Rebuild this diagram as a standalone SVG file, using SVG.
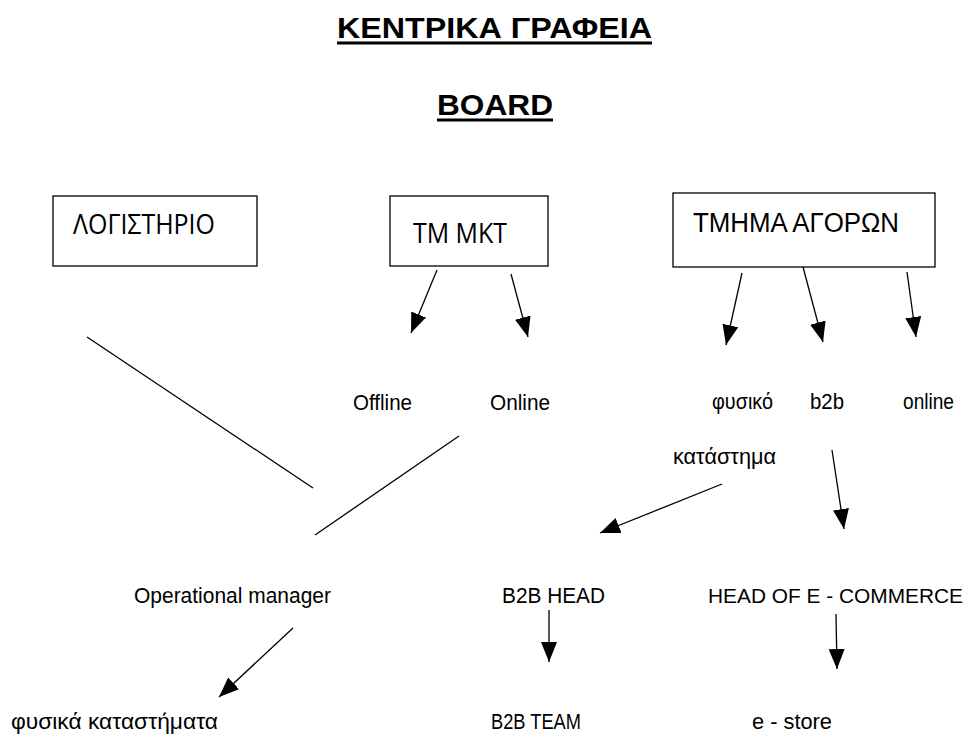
<svg xmlns="http://www.w3.org/2000/svg" width="971" height="740" viewBox="0 0 971 740">
  <style>
    .title { font-family: "Liberation Sans", Arial, sans-serif; font-weight: bold; font-size: 29px; fill: #000; }
    .box { fill: #fff; stroke: #000; stroke-width: 1.3; }
    .cal { font-family: "Open Sans", "Noto Sans", sans-serif; font-size: 27px; fill: #000; }
    .lbl { font-family: "Liberation Sans", Arial, sans-serif; font-size: 22px; fill: #000; }
    .big { font-family: "Liberation Sans", Arial, sans-serif; font-size: 27px; fill: #000; }
    .edge { stroke: #000; stroke-width: 1.3; fill: none; }
    .arrow { marker-end: url(#head); }
  </style>
  <defs>
    <marker id="head" markerUnits="userSpaceOnUse" markerWidth="21" markerHeight="17" refX="20" refY="8" orient="auto" viewBox="0 0 21 17">
      <path d="M0,0 L20,8 L0,16 z" fill="#000"/>
    </marker>
  </defs>
  <rect width="971" height="740" fill="#fff"/>

  <!-- headings -->
  <g id="headquarters">
    <text class="title" x="337" y="38" textLength="315" lengthAdjust="spacingAndGlyphs">ΚΕΝΤΡΙΚΑ ΓΡΑΦΕΙΑ</text>
    <rect x="337" y="41.5" width="315" height="3" fill="#000"/>
  </g>
  <g id="board">
    <text class="title" x="437" y="115" textLength="116" lengthAdjust="spacingAndGlyphs">BOARD</text>
    <rect x="437" y="118.5" width="116" height="3" fill="#000"/>
  </g>

  <!-- department boxes -->
  <g id="accounting">
    <rect class="box" x="53" y="196" width="204" height="70"/>
    <text class="cal" x="73" y="234" textLength="142" lengthAdjust="spacingAndGlyphs">ΛΟΓΙΣΤΗΡΙΟ</text>
  </g>
  <g id="marketing">
    <rect class="box" x="390" y="196" width="158" height="70"/>
    <text class="cal" x="413" y="243" textLength="94" lengthAdjust="spacingAndGlyphs">ΤΜ ΜΚΤ</text>
  </g>
  <g id="purchasing">
    <rect class="box" x="673" y="193" width="262" height="74"/>
    <text class="big" x="693" y="232" textLength="206" lengthAdjust="spacingAndGlyphs">ΤΜΗΜΑ ΑΓΟΡΩΝ</text>
  </g>

  <!-- channel labels -->
  <g id="offline"><text class="lbl" x="353" y="410" textLength="59" lengthAdjust="spacingAndGlyphs">Offline</text></g>
  <g id="online-mkt"><text class="lbl" x="490" y="410" textLength="60" lengthAdjust="spacingAndGlyphs">Online</text></g>
  <g id="physical-store">
    <text class="lbl" x="712" y="409" textLength="61" lengthAdjust="spacingAndGlyphs">φυσικό</text>
    <text class="lbl" x="673" y="464" textLength="103" lengthAdjust="spacingAndGlyphs">κατάστημα</text>
  </g>
  <g id="b2b"><text class="lbl" x="810" y="409" textLength="34" lengthAdjust="spacingAndGlyphs">b2b</text></g>
  <g id="online-buy"><text class="lbl" x="903" y="409" textLength="51" lengthAdjust="spacingAndGlyphs">online</text></g>

  <!-- managers -->
  <g id="operational-manager"><text class="lbl" x="134" y="603" textLength="197" lengthAdjust="spacingAndGlyphs">Operational manager</text></g>
  <g id="b2b-head"><text class="lbl" x="502" y="603" textLength="103" lengthAdjust="spacingAndGlyphs">B2B HEAD</text></g>
  <g id="ecommerce-head"><text class="lbl" x="708" y="603" style="font-size:20px" textLength="255" lengthAdjust="spacingAndGlyphs">HEAD OF E - COMMERCE</text></g>

  <!-- teams -->
  <g id="physical-stores"><text class="lbl" x="11" y="729" textLength="207" lengthAdjust="spacingAndGlyphs">φυσικά καταστήματα</text></g>
  <g id="b2b-team"><text class="lbl" x="491" y="729" textLength="90" lengthAdjust="spacingAndGlyphs">B2B TEAM</text></g>
  <g id="e-store"><text class="lbl" x="752" y="729" textLength="80" lengthAdjust="spacingAndGlyphs">e - store</text></g>

  <!-- connectors -->
  <g id="connectors">
    <line class="edge arrow" x1="437" y1="270" x2="411" y2="333"/>
    <line class="edge arrow" x1="511" y1="274" x2="528" y2="337"/>
    <line class="edge arrow" x1="742" y1="273" x2="726" y2="345"/>
    <line class="edge arrow" x1="803" y1="267" x2="823" y2="342"/>
    <line class="edge arrow" x1="907" y1="272" x2="916" y2="337"/>
    <line class="edge arrow" x1="722" y1="484" x2="600" y2="533"/>
    <line class="edge arrow" x1="832" y1="450" x2="844" y2="529"/>
    <line class="edge arrow" x1="293" y1="628" x2="219" y2="697"/>
    <line class="edge arrow" x1="549" y1="610" x2="549" y2="662"/>
    <line class="edge arrow" x1="836" y1="614" x2="837" y2="669"/>
    <line class="edge" x1="87" y1="337" x2="313" y2="488"/>
    <line class="edge" x1="459" y1="436" x2="315" y2="535"/>
  </g>
</svg>
